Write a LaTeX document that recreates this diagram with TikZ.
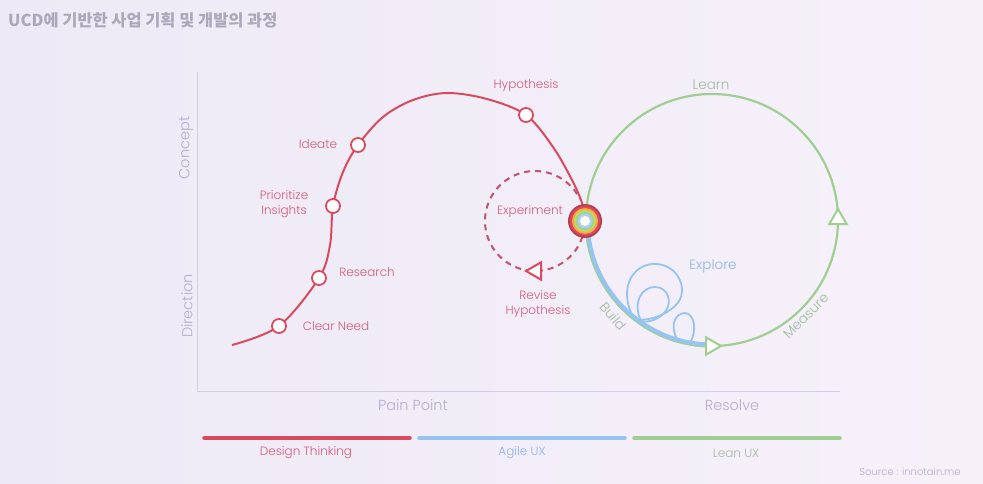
\documentclass[tikz,border=0pt]{standalone}
\usepackage{fontspec}
\IfFontExistsTF{Poppins Light}{\setmainfont{Poppins Light}}{\setmainfont{Poppins}}
\newfontfamily\krfont{Noto Sans CJK KR}
\usetikzlibrary{shapes.geometric}
\pgfdeclarelayer{bg}
\pgfdeclarelayer{lines}
\pgfsetlayers{bg,lines,main}

\definecolor{bgleft}{RGB}{237,233,246}
\definecolor{bgright}{RGB}{246,241,249}
\definecolor{redc}{RGB}{217,74,94}
\definecolor{redtext}{RGB}{212,92,118}
\definecolor{dashc}{RGB}{192,84,108}
\definecolor{greenc}{RGB}{160,206,146}
\definecolor{greentext}{RGB}{160,186,158}
\definecolor{bluec}{RGB}{150,196,240}
\definecolor{bluetext}{RGB}{138,180,236}
\definecolor{axisc}{RGB}{210,206,230}
\definecolor{axistext}{RGB}{176,174,204}
\definecolor{titlec}{RGB}{170,168,186}

\tikzset{
  marker/.style={circle, draw=redc, fill=white, line width=1.8pt, minimum size=14pt, inner sep=0pt},
  redlbl/.style={text=redtext, font=\fontsize{12}{14.5}\selectfont, align=center, inner sep=0pt},
  greenlbl/.style={text=greentext, font=\fontsize{13.5}{15}\selectfont, inner sep=0pt},
  axislbl/.style={text=axistext, font=\fontsize{14.5}{16}\selectfont, inner sep=0pt},
  legendline/.style={line width=3.5pt, line cap=round},
  legendlbl/.style={font=\fontsize{12}{14}\selectfont, inner sep=0pt},
  redcurve/.style={draw=redc, line width=2pt},
  arrowtri/.style={regular polygon, regular polygon sides=3, minimum size=20pt, inner sep=0pt, fill=white, line width=2pt},
}

\begin{document}
\begin{tikzpicture}[x=1pt, y=-1pt]
\useasboundingbox (0,0) rectangle (983,484);
\begin{pgfonlayer}{bg}
  \shade[left color=bgleft, right color=bgright] (0,0) rectangle (983,484);
\end{pgfonlayer}

% title
\node[anchor=west, text=titlec, font=\krfont\bfseries\fontsize{16.4}{18}\selectfont, inner sep=0pt] (title) at (8,20) {UCD에 기반한 사업 기획 및 개발의 과정};

% axes
\coordinate (ytop) at (197,72);
\coordinate (orig) at (197,391);
\coordinate (xend) at (840,391);
\draw[axisc, line width=1pt] (ytop) -- (orig) -- (xend);
\node[axislbl, rotate=90] (concept) at (186,148) {Concept};
\node[axislbl, rotate=90] (direction) at (187,306) {Direction};
\node[axislbl] (pain) at (413,405) {Pain Point};
\node[axislbl] (resolve) at (732,405) {Resolve};

% legend
\coordinate (l1a) at (204,438); \coordinate (l1b) at (410,438);
\coordinate (l2a) at (419,438); \coordinate (l2b) at (625,438);
\coordinate (l3a) at (634,438); \coordinate (l3b) at (840,438);
\draw[legendline, redc] (l1a) -- (l1b);
\draw[legendline, bluec] (l2a) -- (l2b);
\draw[legendline, greenc] (l3a) -- (l3b);
\node[legendlbl, text=redtext] (ldt) at (306,453) {Design Thinking};
\node[legendlbl, text=bluetext] (lag) at (522,453) {Agile UX};
\node[legendlbl, text=greentext] (lle) at (736,453) {Lean UX};
\node[text=axistext, font=\fontsize{10}{12}\selectfont, inner sep=0pt] (src) at (910,472) {Source : innotain.me};

% key points of the design-thinking curve
\coordinate (start) at (232,345);
\node[marker] (cn) at (279,326) {};
\node[marker] (re) at (319,278) {};
\node[marker] (pi) at (333,206) {};
\node[marker] (id) at (358,145) {};
\node[marker] (hy) at (526,115) {};

% hub where the loops meet
\coordinate (hub) at (585,221);
\coordinate (gc) at (712,220);
\coordinate (dc) at (535,221);

\begin{pgfonlayer}{lines}
  % design thinking curve
  \draw[redcurve] plot[smooth, tension=0.55] coordinates {
     (start) (cn.center) (re.center) (330,245) (pi.center) (343,172)
     (id.center) (383,117) (413,100) (447,93) (487,99) (hy.center)
     (553,147) (572,180) (582,203) (hub)};
  % lean UX loop
  \draw[greenc, line width=2.2pt] (gc) circle[radius=126pt];
  % agile UX stretch along the build arc
  \draw[bluec, line width=4pt] (gc) ++(182:124.5pt) arc[start angle=182, end angle=268, radius=124.5pt];
  \draw[greenc!80!bluec, line width=1.2pt] (gc) ++(182:127pt) arc[start angle=182, end angle=268, radius=127pt];
  % explore loops
  \draw[bluec, line width=1.8pt]
    (634,319) .. controls (616,285) and (636,262) .. (657,264)
              .. controls (680,266) and (689,292) .. (676,305)
              .. controls (665,316) and (646,322) .. (634,319);
  \draw[bluec, line width=1.8pt]
    (641,321) .. controls (632,302) and (642,287) .. (655,287)
              .. controls (668,287) and (673,302) .. (665,312)
              .. controls (659,319) and (649,323) .. (641,321);
  \draw[bluec, line width=1.8pt]
    (678,341) .. controls (668,323) and (677,313) .. (685,313)
              .. controls (695,314) and (697,331) .. (690,343);
  % experiment loop
  \draw[dashc, line width=2pt, dash pattern=on 6pt off 5pt]
    (dc) ++(-18:50pt) arc[start angle=-18, end angle=-334, radius=50pt];
\end{pgfonlayer}

% direction markers
\node[arrowtri, draw=redc, rotate=90] (revtri) at (536,271) {};
\node[arrowtri, draw=greenc] (meastri) at (838,219) {};
\node[arrowtri, draw=greenc, rotate=-90] (buildtri) at (711,346) {};

% hub rings
\fill[redc!85!black] (hub) circle[radius=17pt];
\fill[redc] (hub) circle[radius=15pt];
\fill[orange!70!white] (hub) circle[radius=13pt];
\fill[yellow!60!green!70!white] (hub) circle[radius=11pt];
\fill[greenc] (hub) circle[radius=9pt];
\fill[bluec!80!white] (hub) circle[radius=7.5pt];
\node[circle, fill=white, minimum size=10pt, inner sep=0pt] (hubc) at (hub) {};

% labels
\node[redlbl] (lhy) at (526,86) {Hypothesis};
\node[redlbl] (lid) at (318,144) {Ideate};
\node[redlbl] (lpi) at (284,204) {Prioritize\\Insights};
\node[redlbl] (lre) at (367,272) {Research};
\node[redlbl] (lcn) at (336,326) {Clear Need};
\node[redlbl] (lex) at (530,212) {Experiment};
\node[redlbl] (lrv) at (538,304) {Revise\\Hypothesis};
\node[greenlbl] (lle2) at (711,85) {Learn};
\node[greenlbl, rotate=-50] (lbu) at (613,316) {Build};
\node[greenlbl, rotate=45] (lme) at (806,316) {Measure};
\node[text=bluetext, font=\fontsize{13.5}{15}\selectfont, inner sep=0pt] (lexp) at (713,266) {Explore};
\end{tikzpicture}
\end{document}
